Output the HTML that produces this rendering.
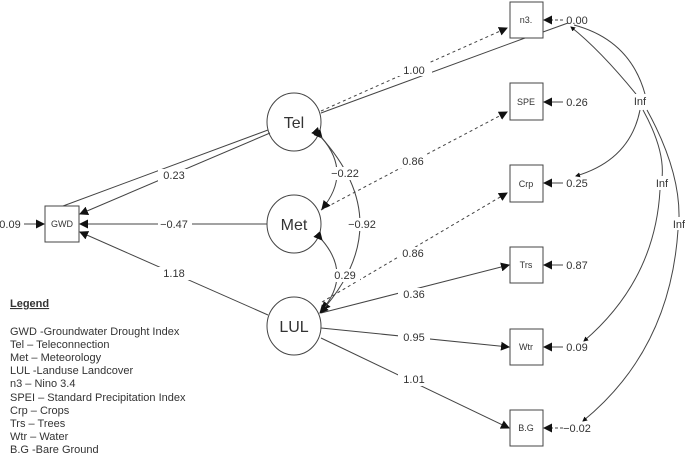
<!DOCTYPE html>
<html><head><meta charset="utf-8"><style>
html,body{margin:0;padding:0;background:#fff}
svg{display:block}
text{font-family:"Liberation Sans",Arial,sans-serif;fill:#333}
</style></head><body>
<svg width="685" height="454" viewBox="0 0 685 454" xmlns="http://www.w3.org/2000/svg">
<defs>
<marker id="a" markerWidth="9" markerHeight="9" refX="8" refY="4.5" orient="auto" markerUnits="userSpaceOnUse"><path d="M0,0 L9,4.5 L0,9 z" fill="#111"/></marker>
<marker id="s" markerWidth="5" markerHeight="5" refX="4" refY="2.5" orient="auto" markerUnits="userSpaceOnUse"><path d="M0,0 L5,2.5 L0,5 z" fill="#111"/></marker>
</defs>
<g stroke="#444" fill="none" stroke-width="1">
<rect x="510" y="2" width="33" height="36" fill="#fff"/>
<rect x="510" y="83" width="33" height="37" fill="#fff"/>
<rect x="510" y="165" width="33" height="37" fill="#fff"/>
<rect x="510" y="247" width="33" height="36" fill="#fff"/>
<rect x="510" y="329" width="33" height="36" fill="#fff"/>
<rect x="510" y="410" width="33" height="36" fill="#fff"/>
<rect x="45" y="206" width="34" height="36" fill="#fff"/>
<ellipse cx="294" cy="122" rx="27" ry="29" fill="#fff"/>
<ellipse cx="294" cy="224" rx="27" ry="29" fill="#fff"/>
<ellipse cx="294" cy="326" rx="27" ry="29" fill="#fff"/>
<line x1="321" y1="111" x2="507" y2="28" stroke-dasharray="3,3" marker-end="url(#a)"/>
<line x1="321" y1="113" x2="525" y2="38"/>
<line x1="543" y1="32" x2="568" y2="23"/>
<line x1="268" y1="130" x2="63" y2="206"/>
<line x1="270" y1="133" x2="80" y2="214" marker-end="url(#a)"/>
<line x1="267" y1="224" x2="80" y2="224" marker-end="url(#a)"/>
<line x1="268" y1="315" x2="80" y2="232" marker-end="url(#a)"/>
<line x1="321" y1="210" x2="507" y2="112" stroke-dasharray="3,3" marker-end="url(#a)"/>
<line x1="322" y1="302" x2="507" y2="193" stroke-dasharray="3,3" marker-end="url(#a)"/>
<line x1="321" y1="313" x2="509" y2="265" marker-end="url(#a)"/>
<line x1="321" y1="328" x2="509" y2="347" marker-end="url(#a)"/>
<line x1="321" y1="338" x2="509" y2="428" marker-end="url(#a)"/>
<path d="M322,138 Q352,173 322,209" marker-start="url(#a)" marker-end="url(#a)"/>
<path d="M322,240 Q352,275 322,310" marker-start="url(#a)" marker-end="url(#a)"/>
<path d="M320,136 Q400,224 320,313" marker-start="url(#a)" marker-end="url(#a)"/>
<line x1="563" y1="20" x2="544" y2="20" stroke-dasharray="3,2" marker-end="url(#a)"/>
<line x1="563" y1="102" x2="544" y2="102" marker-end="url(#a)"/>
<line x1="563" y1="183" x2="544" y2="183" marker-end="url(#a)"/>
<line x1="563" y1="265" x2="544" y2="265" marker-end="url(#a)"/>
<line x1="563" y1="347" x2="544" y2="347" marker-end="url(#a)"/>
<line x1="563" y1="428" x2="544" y2="428" stroke-dasharray="3,2" marker-end="url(#a)"/>
<line x1="24" y1="224" x2="44" y2="224" marker-end="url(#a)"/>
<path d="M636,94 Q600,50 571,27" marker-end="url(#s)"/>
<path d="M645,94 Q630,40 574,25"/>
<path d="M640,110 Q630,160 576,176" marker-end="url(#s)"/>
<path d="M643,110 Q665,150 662,178 M660,190 Q655,280 584,341" marker-end="url(#s)"/>
<path d="M647,110 Q680,170 679,218 M678,230 Q670,350 583,421" marker-end="url(#s)"/>
</g>
<g font-size="9" text-anchor="middle" fill="#444">
<text x="526" y="23">n3.</text>
<text x="526" y="105">SPE</text>
<text x="526" y="187">Crp</text>
<text x="526" y="268">Trs</text>
<text x="526" y="350">Wtr</text>
<text x="526" y="431">B.G</text>
<text x="62" y="227">GWD</text>
</g>
<g font-size="16" text-anchor="middle">
<text x="294" y="128">Tel</text>
<text x="294" y="230">Met</text>
<text x="294" y="332">LUL</text>
</g>
<g font-size="11" text-anchor="middle">
<rect x="398" y="63" width="34" height="13" fill="#fff"/>
<text x="414" y="74">1.00</text>
<rect x="158" y="169" width="32" height="13" fill="#fff"/>
<text x="174" y="179">0.23</text>
<rect x="158" y="218" width="34" height="13" fill="#fff"/>
<text x="174" y="228">−0.47</text>
<rect x="158" y="267" width="32" height="13" fill="#fff"/>
<text x="174" y="277">1.18</text>
<rect x="398" y="155" width="30" height="13" fill="#fff"/>
<text x="413" y="165">0.86</text>
<rect x="398" y="247" width="30" height="13" fill="#fff"/>
<text x="413" y="257">0.86</text>
<rect x="398" y="288" width="32" height="13" fill="#fff"/>
<text x="414" y="298">0.36</text>
<rect x="398" y="331" width="32" height="13" fill="#fff"/>
<text x="414" y="341">0.95</text>
<rect x="398" y="373" width="32" height="13" fill="#fff"/>
<text x="414" y="383">1.01</text>
<rect x="328" y="167" width="34" height="13" fill="#fff"/>
<text x="345" y="177">−0.22</text>
<rect x="345" y="218" width="34" height="13" fill="#fff"/>
<text x="362" y="228">−0.92</text>
<rect x="330" y="269" width="30" height="13" fill="#fff"/>
<text x="345" y="279">0.29</text>
<text x="577" y="24">0.00</text>
<text x="577" y="106">0.26</text>
<text x="577" y="187">0.25</text>
<text x="577" y="269">0.87</text>
<text x="577" y="351">0.09</text>
<text x="577" y="432">−0.02</text>
<text x="10" y="228">0.09</text>
<rect x="630" y="94" width="20" height="13" fill="#fff"/>
<text x="640" y="105">Inf</text>
<rect x="652" y="176" width="20" height="13" fill="#fff"/>
<text x="662" y="187">Inf</text>
<rect x="669" y="217" width="16" height="13" fill="#fff"/>
<text x="679" y="228">Inf</text>
</g>
<g font-size="11">
<text x="10" y="307" font-weight="bold" text-decoration="underline">Legend</text>
<text x="10" y="335">GWD -Groundwater Drought Index</text>
<text x="10" y="348">Tel – Teleconnection</text>
<text x="10" y="361">Met – Meteorology</text>
<text x="10" y="374">LUL -Landuse Landcover</text>
<text x="10" y="387">n3 – Nino 3.4</text>
<text x="10" y="401">SPEI – Standard Precipitation Index</text>
<text x="10" y="414">Crp – Crops</text>
<text x="10" y="427">Trs – Trees</text>
<text x="10" y="440">Wtr – Water</text>
<text x="10" y="453">B.G -Bare Ground</text>
</g>
</svg>
</body></html>
